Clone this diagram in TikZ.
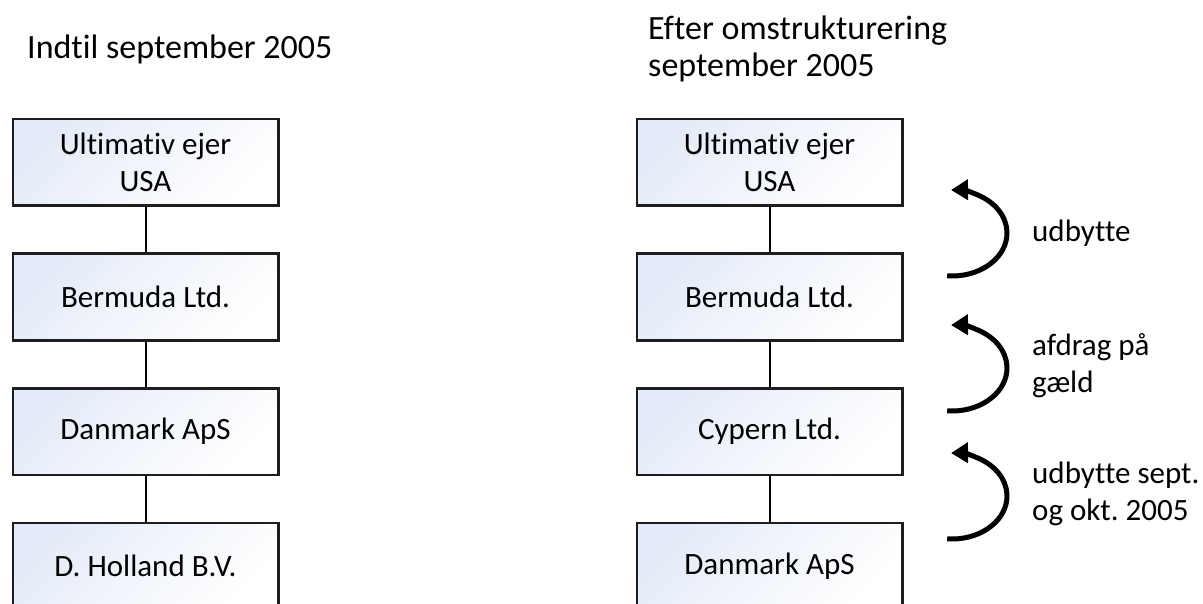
\documentclass[tikz,border=0pt]{standalone}
\usepackage{fontspec}
\setmainfont{Carlito}[Ligatures=NoCommon]
\frenchspacing
\usetikzlibrary{positioning,arrows.meta}
\definecolor{boxtint}{RGB}{228,235,248}
\definecolor{boxline}{RGB}{30,30,30}
\tikzset{
  orgbox/.style={
    draw=boxline, line width=2.5pt,
    top color=boxtint, bottom color=white, shading angle=45,
    minimum width=265.5pt, minimum height=86.5pt,
    align=center, font=\fontsize{31}{37}\selectfont
  },
  ownline/.style={line width=2pt, black},
  payarrow/.style={line width=5pt, -{Triangle[length=17pt,width=20pt]}},
  caption/.style={anchor=base west, inner sep=0pt, align=left,
    font=\fontsize{31}{37}\selectfont},
  heading/.style={caption, font=\fontsize{34}{37}\selectfont}
}
\begin{document}
\begin{tikzpicture}[x=1pt,y=1pt]
        \clip (0,0) rectangle (1203,-604);
        \useasboundingbox (0,0) rectangle (1203,-604);

        % Before: until September 2005
        \node[heading] (titleL) at (27,-59) {Indtil september 2005};
        \node[orgbox] (usaL) at (145.5,-162.5) {Ultimativ ejer\\USA};
        \node[orgbox, below=45.5pt of usaL] (bermudaL) {Bermuda Ltd.};
        \node[orgbox, below=45.5pt of bermudaL] (danmarkL) {Danmark ApS};
        \node[orgbox, below=45.5pt of danmarkL] (hollandL) {D. Holland B.V.};
        \draw[ownline] (usaL) -- (bermudaL);
        \draw[ownline] (bermudaL) -- (danmarkL);
        \draw[ownline] (danmarkL) -- (hollandL);

        % After the restructuring
        \node[heading] (titleR) at (648,-77) {Efter omstrukturering\\september 2005};
        \node[orgbox] (usaR) at (769.5,-162.5) {Ultimativ ejer\\USA};
        \node[orgbox, below=45.5pt of usaR] (bermudaR) {Bermuda Ltd.};
        \node[orgbox, below=45.5pt of bermudaR] (cypernR) {Cypern Ltd.};
        \node[orgbox, below=45.5pt of cypernR] (danmarkR) {Danmark ApS};
        \draw[ownline] (usaR) -- (bermudaR);
        \draw[ownline] (bermudaR) -- (cypernR);
        \draw[ownline] (cypernR) -- (danmarkR);

        % Payments flowing upwards
        \coordinate (turnA) at (952,-233);
        \coordinate (turnB) at (952,-368);
        \coordinate (turnC) at (952,-496);
        \foreach \turn in {turnA,turnB,turnC}
          \draw[payarrow] (\turn) ++(-95:55 and 43)
            arc[start angle=-95, end angle=91, x radius=55, y radius=43];
        \node[caption] (payA) at (1032,-242) {udbytte};
        \node[caption] (payB) at (1032,-392) {afdrag på\\gæld};
        \node[caption] (payC) at (1032,-520) {udbytte sept.\\og okt. 2005};
      \end{tikzpicture}
\end{document}
